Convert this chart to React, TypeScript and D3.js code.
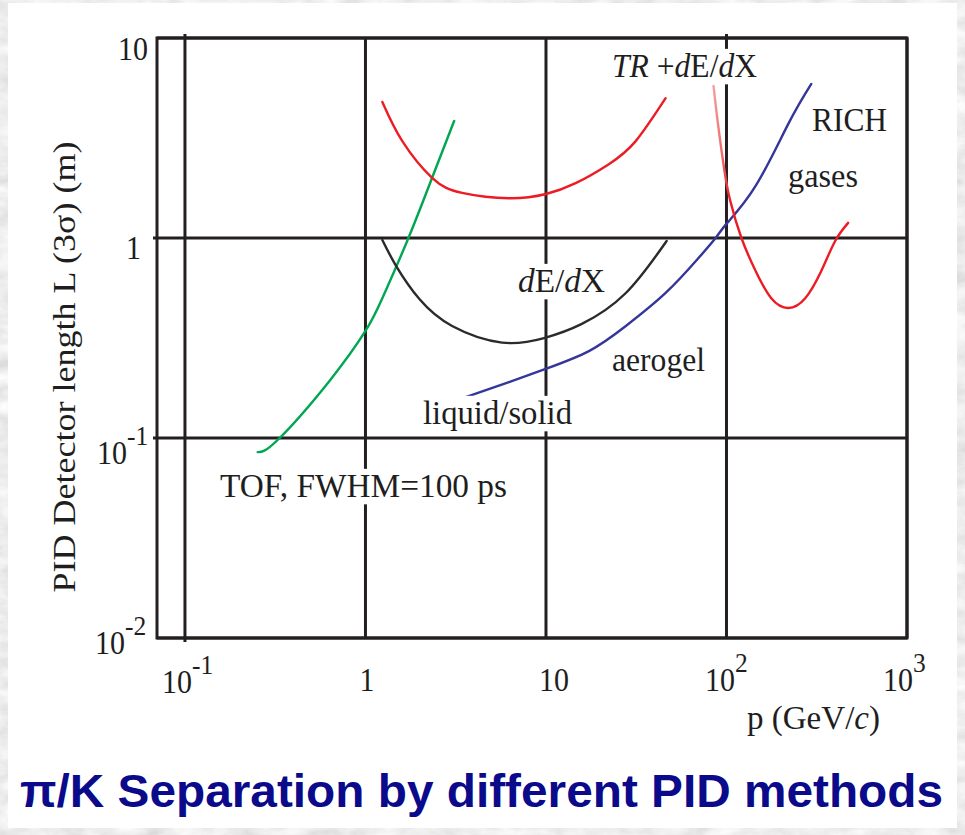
import React, { useEffect, useRef } from "react";
import * as d3 from "d3";

const W = 965;
const H = 835;

// Axis ticks
const xTickValues = [0.1, 1, 10, 100, 1000];
const yTickValues = [0.01, 0.1, 1, 10];

// TOF, FWHM=100 ps (green)
const tofP = [0.253, 0.327, 0.632, 1.0, 1.24, 1.73, 2.34, 3.1];
const tofL = [0.085, 0.098, 0.193, 0.343, 0.5, 1.0, 2.0, 3.85];

// TR + dE/dX (red, left U)
const trP = [1.24, 1.6, 2.34, 3.43, 6.25, 10, 14.6, 22.3, 31.4, 46];
const trL = [4.79, 3.05, 2.0, 1.68, 1.58, 1.66, 1.88, 2.34, 3.05, 5.0];

// dE/dX (black)
const dedxP = [1.24, 1.48, 1.99, 3.02, 5.71, 9.75, 15.8, 27.7, 46.6];
const dedxL = [0.977, 0.724, 0.495, 0.363, 0.3, 0.316, 0.372, 0.531, 0.966];

// RICH liquid/solid -> aerogel -> gases (blue)
const richP = [3.1, 6.01, 9.87, 17.3, 27.7, 46, 70, 87, 101, 145, 220, 295];
const richL = [0.153, 0.188, 0.221, 0.272, 0.363, 0.531, 0.794, 1.0, 1.19, 1.82, 3.72, 5.89];

// TR + dE/dX at high momentum (red, right)
const tr2P = [84.8, 90.3, 97.5, 105, 121, 145, 177, 220, 273, 335, 400, 472];
const tr2L = [5.75, 3.55, 2.16, 1.53, 1.0, 0.684, 0.5, 0.447, 0.5, 0.684, 0.966, 1.19];

const SERIF = "'Liberation Serif', 'Times New Roman', serif";
const SANS = "'Liberation Sans', Arial, sans-serif";
const INK = "#1e1e1e";

type Part = [string, boolean?];

export default function App() {
  const ref = useRef<SVGSVGElement>(null);

  useEffect(() => {
    const svg = d3.select(ref.current!);
    svg.selectAll("*").remove();

    const x = d3.scaleLog().domain([0.07, 1000]).range([157, 907]);
    const y = d3.scaleLog().domain([0.01, 10]).range([638, 38]);

    const defs = svg.append("defs");
    const f = defs
      .append("filter")
      .attr("id", "marble")
      .attr("filterUnits", "userSpaceOnUse")
      .attr("x", 0)
      .attr("y", 0)
      .attr("width", W)
      .attr("height", H);
    f.append("feTurbulence")
      .attr("type", "fractalNoise")
      .attr("baseFrequency", "0.035 0.07")
      .attr("numOctaves", 4)
      .attr("seed", 7)
      .attr("result", "n");
    f.append("feColorMatrix").attr("type", "saturate").attr("values", 0);
    const ct = f.append("feComponentTransfer");
    ct.append("feFuncR").attr("type", "linear").attr("slope", 0.5).attr("intercept", 0.6);
    ct.append("feFuncG").attr("type", "linear").attr("slope", 0.5).attr("intercept", 0.6);
    ct.append("feFuncB").attr("type", "linear").attr("slope", 0.5).attr("intercept", 0.6);
    ct.append("feFuncA").attr("type", "linear").attr("slope", 0).attr("intercept", 1);

    const grad = defs
      .append("linearGradient")
      .attr("id", "fadeRed")
      .attr("gradientUnits", "userSpaceOnUse")
      .attr("x1", 0)
      .attr("y1", y(6))
      .attr("x2", 0)
      .attr("y2", y(1.5));
    grad.append("stop").attr("offset", 0).attr("stop-color", "#f4a3a3");
    grad.append("stop").attr("offset", 0.6).attr("stop-color", "#f06a6a");
    grad.append("stop").attr("offset", 1).attr("stop-color", "#ec1c24");

    // background
    svg.append("rect").attr("width", W).attr("height", H).attr("fill", "#d8d8d8").attr("filter", "url(#marble)");
    svg.append("rect").attr("x", 8).attr("y", 3).attr("width", 949).attr("height", 825).attr("fill", "#ffffff");

    // grid
    const grid = svg.append("g").attr("stroke", "#231f20").attr("stroke-width", 3).attr("fill", "none");
    xTickValues.forEach((v) => {
      const top = v === 0.1 || v === 100 ? 34 : 38;
      const bot = v === 0.1 ? 642 : 638;
      grid.append("line").attr("x1", x(v)).attr("x2", x(v)).attr("y1", top).attr("y2", bot);
    });
    yTickValues.forEach((v) => {
      const left = v === 1 || v === 0.1 ? 153 : 157;
      grid.append("line").attr("x1", left).attr("x2", 907).attr("y1", y(v)).attr("y2", y(v));
    });
    grid.append("rect").attr("x", 157).attr("y", 38).attr("width", 750).attr("height", 600);

    // curves
    const line = d3
      .line<[number, number]>()
      .x((d) => x(d[0]))
      .y((d) => y(d[1]))
      .curve(d3.curveNatural);
    const zip = (a: number[], b: number[]) => a.map((v, i) => [v, b[i]] as [number, number]);
    const curves: { pts: [number, number][]; color: string }[] = [
      { pts: zip(tofP, tofL), color: "#00a651" },
      { pts: zip(trP, trL), color: "#ec1c24" },
      { pts: zip(dedxP, dedxL), color: "#2b2b2b" },
      { pts: zip(richP, richL), color: "#34369a" },
      { pts: zip(tr2P, tr2L), color: "url(#fadeRed)" },
    ];
    const cg = svg.append("g").attr("fill", "none").attr("stroke-width", 2.4).attr("stroke-linecap", "round");
    curves.forEach((c) => cg.append("path").attr("d", line(c.pts)!).attr("stroke", c.color));

    // text helper
    const label = (
      px: number,
      py: number,
      parts: Part[],
      opts: { size: number; anchor?: string; len?: number; knock?: boolean; sy?: number }
    ) => {
      const g = svg
        .append("g")
        .attr("transform", `translate(${px},${py}) scale(1,${opts.sy ?? 1.1})`);
      const t = g
        .append("text")
        .attr("font-family", SERIF)
        .attr("font-size", opts.size)
        .attr("fill", INK)
        .attr("text-anchor", opts.anchor ?? "start");
      parts.forEach(([s, it]) => {
        t.append("tspan").attr("font-style", it ? "italic" : "normal").text(s);
      });
      if (opts.len) t.attr("textLength", opts.len).attr("lengthAdjust", "spacingAndGlyphs");
      if (opts.knock) {
        const b = (t.node() as SVGTextElement).getBBox();
        g.insert("rect", "text")
          .attr("x", b.x - 2)
          .attr("y", b.y + 2)
          .attr("width", b.width + 4)
          .attr("height", b.height - 2)
          .attr("fill", "#ffffff");
      }
      return t;
    };

    const power = (px: number, py: number, exp: string, size: number, anchor = "start", supDy = -17) => {
      const g = svg.append("g").attr("transform", `translate(${px},${py}) scale(1,1.1)`);
      const t = g
        .append("text")
        .attr("font-family", SERIF)
        .attr("font-size", size)
        .attr("fill", INK)
        .attr("text-anchor", anchor);
      t.append("tspan").text("10");
      t.append("tspan").attr("font-size", size * 0.85).attr("dy", supDy).text(exp);
    };

    // y tick labels
    label(148, 60, [["10"]], { size: 30, anchor: "end" });
    label(141, 259, [["1"]], { size: 30, anchor: "end" });
    power(97, 464, "-1", 30);
    power(95, 654, "-2", 30);

    // x tick labels
    power(162, 693, "-1", 30);
    label(367, 691, [["1"]], { size: 30, anchor: "middle" });
    label(554, 691, [["10"]], { size: 30, anchor: "middle" });
    power(705, 691, "2", 30);
    power(883, 691, "3", 30);

    // axis titles
    label(747, 729, [["p (GeV/"], ["c", true], [")"]], { size: 31, len: 133 });
    {
      const g = svg.append("g").attr("transform", `translate(75,367) rotate(-90)`);
      g.append("text")
        .attr("font-family", SERIF)
        .attr("font-size", 31)
        .attr("fill", INK)
        .attr("text-anchor", "middle")
        .attr("textLength", 451)
        .attr("lengthAdjust", "spacingAndGlyphs")
        .text("PID Detector length L (3σ) (m)");
    }

    // curve labels
    label(612, 77, [["TR", true], [" +"], ["d", true], ["E/"], ["d", true], ["X"]], { size: 31, len: 145, knock: true });
    label(812, 131, [["RICH"]], { size: 31, len: 75, knock: true });
    label(788, 187, [["gases"]], { size: 31, len: 70, knock: true });
    label(518, 292, [["d", true], ["E/"], ["d", true], ["X"]], { size: 31, len: 87, knock: true });
    label(612, 371, [["aerogel"]], { size: 31, len: 93, knock: true });
    label(423, 424, [["liquid/solid"]], { size: 31, len: 149, knock: true });
    label(220, 497, [["TOF, FWHM=100 ps"]], { size: 31, len: 287, knock: true });

    // slide title
    svg
      .append("text")
      .attr("x", 20)
      .attr("y", 807)
      .attr("font-family", SANS)
      .attr("font-weight", "bold")
      .attr("font-size", 46)
      .attr("fill", "#0a0a8a")
      .attr("textLength", 923)
      .attr("lengthAdjust", "spacingAndGlyphs")
      .text("π/K Separation by different PID methods");
  }, []);

  return (
    <svg
      ref={ref}
      width={W}
      height={H}
      style={{ position: "absolute", left: 0, top: 0, display: "block" }}
    />
  );
}
